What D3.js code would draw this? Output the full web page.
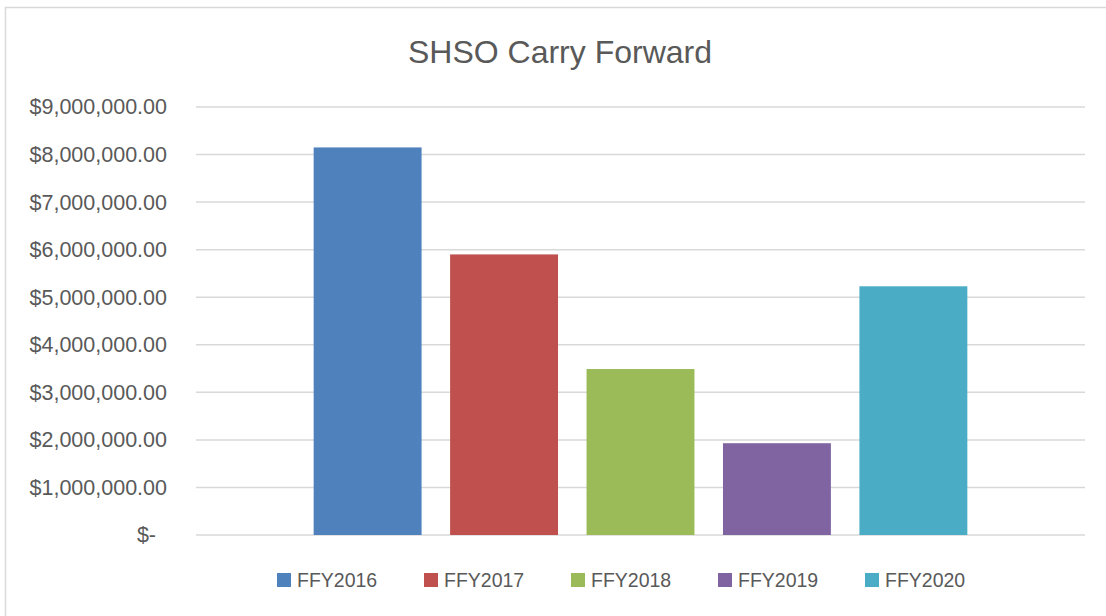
<!DOCTYPE html>
<html>
<head>
<meta charset="utf-8">
<script src="https://cdn.jsdelivr.net/npm/d3@7"></script>
<style>
    html, body { margin: 0; padding: 0; background: #fff; }
    svg { display: block; font-family: "Liberation Sans", Arial, sans-serif; }
</style>
</head>
<body>
<div id="chart"></div>
<script>

// data
const series = ["FFY2016", "FFY2017", "FFY2018", "FFY2019", "FFY2020"];
const carryForward = [8150000, 5900000, 3490000, 1930000, 5230000];
const colors = ["#4f81bd", "#c0504d", "#9bbb59", "#8064a2", "#4bacc6"];
const yTicks = [0, 1000000, 2000000, 3000000, 4000000, 5000000, 6000000, 7000000, 8000000, 9000000];

const widthSvg = 1106, heightSvg = 616;
const plotLeft = 196, plotRight = 1085, plotTop = 107, plotBottom = 535;

let svg = d3.select("#chart").append("svg")
    .attr("width", widthSvg).attr("height", heightSvg);

// chart area border (right and bottom edges run off the picture)
svg.append("rect")
    .attr("x", 5.5).attr("y", 7.5)
    .attr("width", 1110).attr("height", 620)
    .attr("fill", "white")
    .attr("stroke", "#d9d9d9")
    .attr("stroke-width", 1.5);

// scales
const yScale = d3.scaleLinear()
    .domain([0, 9000000])
    .range([plotBottom, plotTop]);

// one category, five series side by side
const groupScale = d3.scaleBand()
    .domain(["SHSO"])
    .range([plotLeft, plotRight])
    .paddingOuter(0.18);

const xScale = d3.scaleBand()
    .domain(series)
    .range([groupScale("SHSO"), groupScale("SHSO") + groupScale.bandwidth()])
    .paddingInner(0.209)
    .paddingOuter(0);

// gridlines
svg.append("g")
    .selectAll("line")
    .data(yTicks)
    .enter()
    .append("line")
    .attr("x1", plotLeft).attr("x2", plotRight)
    .attr("y1", d => yScale(d)).attr("y2", d => yScale(d))
    .attr("stroke", "#d9d9d9")
    .attr("stroke-width", 1.5);

// y axis labels
const money = d3.format("$,.2f");
let yAxis = svg.append("g")
    .attr("transform", `translate(${plotLeft}, 0)`)
    .call(d3.axisLeft(yScale)
        .tickValues(yTicks)
        .tickSize(0)
        .tickPadding(29)
        .tickFormat(d => d === 0 ? "$-" : money(d)));

yAxis.select(".domain").remove();
yAxis.selectAll("text")
    .attr("fill", "#595959")
    .style("font-size", "21.5px")
    .attr("dx", d => d === 0 ? -11 : 0);

// bars
svg.append("g")
    .selectAll("rect")
    .data(carryForward)
    .enter()
    .append("rect")
    .attr("x", (d, i) => xScale(series[i]))
    .attr("width", xScale.bandwidth())
    .attr("y", d => yScale(d))
    .attr("height", d => yScale(0) - yScale(d))
    .attr("fill", (d, i) => colors[i]);

// title
svg.append("text")
    .text("SHSO Carry Forward")
    .attr("x", 560).attr("y", 63)
    .attr("text-anchor", "middle")
    .attr("fill", "#595959")
    .style("font-size", "32px");

// legend
const legendGap = 147;
let legend = svg.append("g")
    .attr("transform", "translate(277, 573)");

let cells = legend.selectAll("g")
    .data(series)
    .enter()
    .append("g")
    .attr("transform", (d, i) => `translate(${i * legendGap}, 0)`);

cells.append("rect")
    .attr("width", 14).attr("height", 14)
    .attr("fill", (d, i) => colors[i]);

cells.append("text")
    .text(d => d)
    .attr("x", 20).attr("y", 14)
    .attr("fill", "#595959")
    .style("font-size", "19.5px");

</script>
</body>
</html>
